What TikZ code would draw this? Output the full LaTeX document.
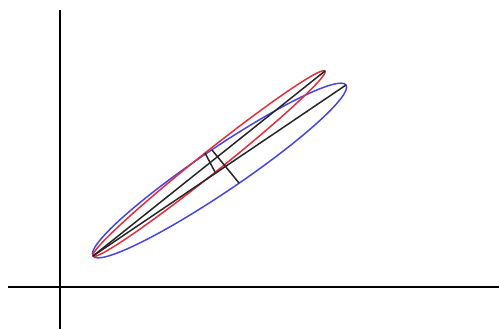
\documentclass[tikz,border=0pt]{standalone}
\usepackage{tikz}
\usetikzlibrary{calc}
\definecolor{ellblue}{RGB}{70,70,225}
\definecolor{ellred}{RGB}{225,45,60}

\begin{document}
\begin{tikzpicture}[x=0.02cm, y=0.02cm,
  yaxis/.style={black, line width=1.6pt},
  xaxis/.style={black, line width=0.9pt},
  blueell/.style={ellblue, line width=0.85pt},
  redell/.style={ellred, line width=0.85pt},
  mainax/.style={black!85, line width=0.85pt},
]
\useasboundingbox (0,0) rectangle (499,329);
% Axes
\coordinate (ytop) at (60,319);
\coordinate (ybot) at (60,0);
\coordinate (xleft) at (8,42);
\coordinate (xright) at (499,42);
\draw[yaxis] (ybot) -- (ytop);
\draw[xaxis] (xleft) -- (xright);
% Shared vertex and far vertices
\coordinate (o) at (93,73);
\coordinate (rtip) at (325,258);
\coordinate (btip) at (346,244);
\coordinate (rc) at ($(o)!0.5!(rtip)$);
\coordinate (bc) at ($(o)!0.5!(btip)$);
% Blue ellipse
\draw[blueell, rotate around={34.05:(bc)}] (bc) ellipse [x radius=152.7, y radius=21.5];
% Red ellipse
\draw[redell, rotate around={38.57:(rc)}] (rc) ellipse [x radius=148.4, y radius=10.7];
% Major axes
\draw[mainax] (o) -- (rtip);
\draw[mainax] (o) -- (btip);
% Minor axes
\coordinate (rtop) at (205,176);
\coordinate (rbot) at (215,157);
\coordinate (btop) at (212,179);
\coordinate (bbot) at (239,146);
\draw[mainax] (rtop) -- (rbot);
\draw[mainax] (btop) -- (bbot);
\end{tikzpicture}
\end{document}
